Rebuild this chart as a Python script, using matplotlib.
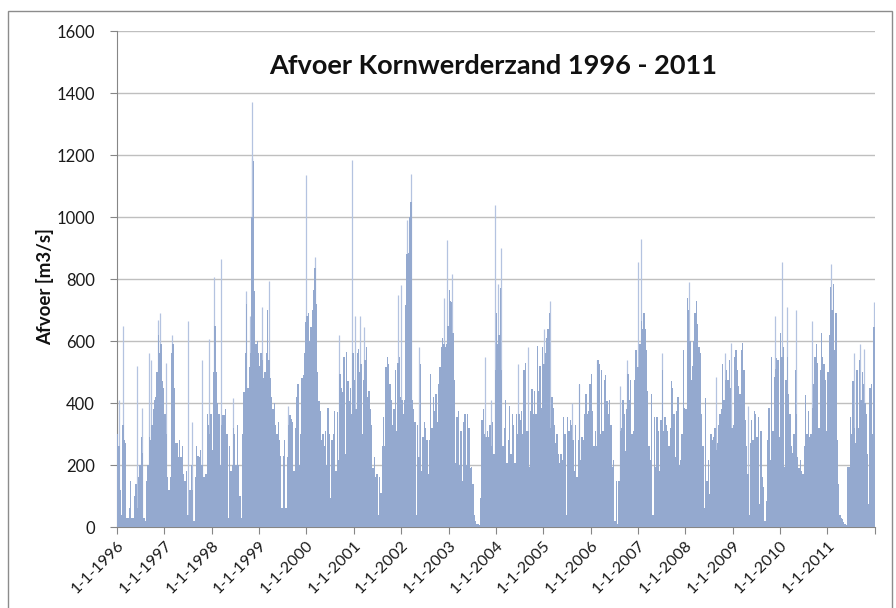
import matplotlib
matplotlib.use('Agg')
import matplotlib.pyplot as plt
import matplotlib.dates as mdates
from matplotlib.patches import Rectangle
import numpy as np
import pandas as pd

# discharge, 36 bins (~10 days) per year, m3/s
body_1996 = [300, 260, 120, 40, 330, 280, 270, 30, 30, 60, 150, 30, 30, 100, 140, 60, 160, 200,
             290, 240, 30, 20, 150, 200, 290, 280, 330, 380, 410, 420, 500, 620, 560, 590, 470, 450]
body_1997 = [365, 300, 160, 120, 160, 560, 590, 450, 270, 270, 225, 280, 225, 260, 170, 150, 180, 40,
             40, 120, 200, 120, 20, 160, 260, 230, 225, 250, 200, 160, 160, 170, 365, 330, 300, 365]
body_1998 = [250, 500, 650, 500, 400, 365, 200, 330, 360, 360, 380, 300, 30, 260, 180, 200, 320, 300,
             200, 330, 200, 100, 30, 300, 435, 560, 720, 450, 515, 560, 1000, 1180, 760, 590, 600, 560]
body_1999 = [520, 560, 540, 480, 500, 560, 700, 540, 480, 420, 380, 400, 330, 300, 340, 280, 230, 60,
             230, 280, 60, 225, 330, 360, 350, 340, 180, 320, 420, 460, 200, 300, 480, 490, 560, 660]
body_2000 = [680, 690, 600, 645, 700, 765, 835, 720, 500, 405, 375, 280, 300, 260, 310, 200, 385, 300,
             95, 280, 300, 375, 180, 370, 215, 495, 450, 435, 550, 235, 565, 470, 405, 450, 365, 560]
body_2001 = [475, 380, 560, 575, 500, 525, 300, 475, 540, 580, 420, 440, 380, 330, 190, 225, 160, 170,
             40, 160, 110, 260, 355, 260, 515, 550, 525, 460, 410, 330, 380, 505, 310, 530, 550, 420]
body_2002 = [410, 365, 410, 715, 880, 885, 1000, 1050, 410, 380, 340, 40, 330, 225, 525, 180, 290, 340,
             320, 280, 170, 280, 495, 320, 420, 375, 430, 340, 460, 515, 580, 610, 590, 580, 590, 650]
body_2003 = [765, 730, 725, 625, 475, 205, 355, 375, 200, 310, 150, 340, 365, 200, 365, 320, 190, 195,
             140, 40, 20, 10, 10, 5, 95, 345, 380, 300, 290, 310, 290, 330, 260, 340, 235, 505]
body_2004 = [690, 590, 620, 770, 505, 260, 320, 410, 205, 280, 390, 235, 365, 330, 205, 365, 300, 365,
             345, 375, 300, 505, 530, 310, 310, 195, 375, 445, 365, 440, 365, 585, 440, 520, 385, 580]
body_2005 = [525, 560, 610, 640, 690, 320, 420, 385, 330, 270, 300, 235, 205, 235, 215, 355, 300, 40,
             355, 310, 345, 330, 280, 180, 330, 160, 280, 460, 215, 290, 280, 365, 430, 365, 375, 460]
body_2006 = [495, 375, 260, 310, 260, 540, 525, 300, 505, 310, 475, 490, 405, 365, 410, 330, 195, 215,
             20, 150, 10, 150, 310, 320, 410, 365, 245, 380, 495, 410, 475, 300, 310, 475, 570, 515]
body_2007 = [515, 590, 665, 640, 690, 640, 570, 440, 260, 215, 430, 40, 355, 195, 355, 310, 180, 345,
             505, 310, 355, 330, 310, 260, 320, 470, 450, 365, 225, 375, 420, 200, 215, 300, 570, 385]
body_2008 = [380, 740, 700, 600, 475, 520, 600, 690, 730, 655, 580, 560, 365, 260, 60, 415, 150, 215,
             105, 300, 280, 290, 320, 250, 270, 330, 365, 380, 525, 410, 475, 505, 475, 540, 450, 320]
body_2009 = [330, 550, 570, 505, 455, 430, 570, 595, 505, 345, 260, 170, 40, 270, 345, 280, 375, 365,
             290, 355, 75, 310, 160, 130, 20, 85, 280, 385, 215, 550, 310, 485, 510, 545, 540, 290]
body_2010 = [625, 550, 580, 195, 475, 550, 430, 365, 260, 240, 300, 505, 365, 225, 190, 215, 180, 170,
             260, 425, 300, 375, 290, 300, 385, 460, 550, 590, 530, 320, 505, 625, 550, 525, 475, 310]
body_2011 = [500, 620, 775, 700, 785, 570, 690, 280, 140, 40, 30, 25, 15, 10, 5, 195, 195, 355,
             300, 470, 320, 270, 505, 320, 540, 410, 500, 460, 400, 365, 235, 75, 450, 460, 300, 645]

years = list(range(1996, 2012))
body_series = [body_1996, body_1997, body_1998, body_1999, body_2000, body_2001, body_2002, body_2003,
               body_2004, body_2005, body_2006, body_2007, body_2008, body_2009, body_2010, body_2011]

# single-day peaks (the thin light lines)
spike_dates = ['1996-01-13', '1996-02-15', '1996-06-03', '1996-07-09', '1996-09-03', '1996-09-23',
               '1996-11-15', '1996-11-30', '1997-01-10', '1997-02-26', '1997-07-04', '1997-07-30',
               '1997-10-17', '1997-12-13', '1998-01-21', '1998-03-10', '1998-06-14', '1998-09-19',
               '1998-10-20', '1998-11-09', '1998-11-11', '1999-01-23', '1999-03-16', '1999-08-14',
               '1999-12-27', '2000-03-09', '2000-09-10', '2000-12-21', '2001-01-13', '2001-02-15',
               '2001-03-23', '2001-12-10', '2002-01-02', '2002-02-18', '2002-03-18', '2002-05-19',
               '2002-11-25', '2002-12-21', '2003-01-28', '2003-10-13', '2003-11-26', '2003-12-28',
               '2004-01-15', '2004-02-08', '2004-06-23', '2004-09-03', '2005-01-05', '2005-02-20',
               '2005-08-14', '2005-10-05', '2006-02-23', '2006-08-17', '2006-10-07', '2007-01-01',
               '2007-01-21', '2007-07-04', '2008-01-31', '2008-08-22', '2008-10-30', '2008-12-20',
               '2009-04-25', '2009-11-25', '2010-01-13', '2010-02-26', '2010-05-06', '2010-09-04',
               '2011-01-28', '2011-07-22', '2011-09-07', '2011-10-10', '2011-12-29']
spike_values = [410, 650, 520, 385, 560, 540,
                667, 690, 530, 620, 665, 340,
                540, 605, 805, 865, 415, 760,
                680, 1370, 1190, 710, 795, 390,
                1135, 870, 620, 1185, 680, 680,
                645, 750, 780, 990, 1140, 580,
                740, 925, 815, 550, 410, 1040,
                785, 900, 525, 580, 640, 730,
                400, 460, 540, 455, 540, 855,
                930, 560, 790, 485, 560, 595,
                390, 680, 855, 710, 700, 665,
                850, 560, 590, 575, 725]

y_ticks = [0, 200, 400, 600, 800, 1000, 1200, 1400, 1600]

BODY_COLOR = '#94a9cf'
SPIKE_COLOR = '#b4c3e0'
GRID_COLOR = '#bfbfbf'
AXIS_COLOR = '#868686'

plt.rcParams['font.family'] = ['Lato', 'DejaVu Sans']

fig = plt.figure(figsize=(8.96, 6.08), dpi=100)
ax = fig.add_axes([117 / 896, 1 - 527 / 608, (874.7 - 117) / 896, (527 - 31) / 608])

bin_days = 365.25 / 36
for year, vals in zip(years, body_series):
    start = mdates.date2num(pd.Timestamp(year, 1, 1))
    x = start + np.arange(len(vals)) * bin_days
    ax.bar(x, vals, width=bin_days, align='edge', color=BODY_COLOR, linewidth=0, zorder=3)

spike_x = mdates.date2num(pd.to_datetime(spike_dates))
ax.vlines(spike_x, 0, spike_values, colors=SPIKE_COLOR, linewidth=0.9, zorder=2)

ax.set_xlim(mdates.date2num(pd.Timestamp(1996, 1, 1)), mdates.date2num(pd.Timestamp(2012, 1, 1)))
ax.set_ylim(0, 1600)
ax.set_yticks(y_ticks)
ax.yaxis.grid(True, color=GRID_COLOR, linewidth=1)
ax.set_axisbelow(True)

tick_pos = [mdates.date2num(pd.Timestamp(y, 1, 1)) for y in years + [2012]]
tick_labels = ['1-1-{}'.format(y) for y in years] + ['']
ax.set_xticks(tick_pos)
ax.set_xticklabels(tick_labels, rotation=45, ha='right', rotation_mode='anchor')

for side in ['top', 'right']:
    ax.spines[side].set_visible(False)
for side in ['left', 'bottom']:
    ax.spines[side].set_color(AXIS_COLOR)
ax.tick_params(axis='both', direction='out', length=5, color=AXIS_COLOR, labelcolor='#1a1a1a')
ax.tick_params(axis='x', pad=3, labelsize=11.5)
ax.tick_params(axis='y', pad=11, labelsize=12)

fig.text(493 / 896, 1 - 66 / 608, 'Afvoer Kornwerderzand 1996 - 2011', ha='center', va='center',
         fontsize=19.5, fontweight='bold', color='#111111')
fig.text(45 / 896, 1 - 287 / 608, 'Afvoer [m3/s]', ha='center', va='center', rotation=90,
         fontsize=13.5, fontweight='bold', color='#111111')

fig.add_artist(Rectangle((8 / 896, -0.1), (892 - 8) / 896, 1 - 11 / 608 + 0.1,
                         transform=fig.transFigure, fill=False, edgecolor='#8c8c8c', linewidth=1))

fig.savefig('out.png', dpi=100)
